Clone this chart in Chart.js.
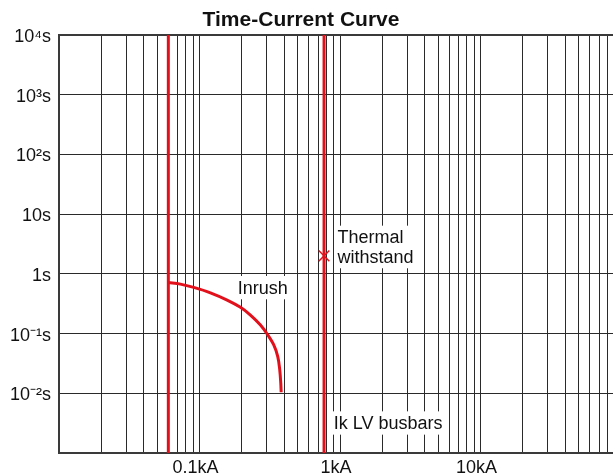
<!DOCTYPE html>
<html><head><meta charset="utf-8">
<script src="https://cdn.jsdelivr.net/npm/chart.js@4.4.1/dist/chart.umd.min.js"></script>
<style>
html,body{margin:0;padding:0;background:#fff;overflow:hidden;}
#wrap{width:613px;height:474px;overflow:hidden;position:relative;}
#c{position:absolute;left:0;top:0;width:630px;height:474px;}
</style></head><body>
<div id="wrap"><canvas id="c" width="630" height="474" style="width:630px;height:474px"></canvas></div>
<script>
// ---- axis ranges and ticks ----
const currentRangeKA = [0.01, 100];
const timeRangeS = [0.001, 10000];
const gridDecadesKA = [0.01, 0.1, 1, 10];
const gridMultipliers = [1, 2, 3, 4, 5, 6, 7, 8, 9];
const currentTickValuesKA = [0.1, 1, 10];
const currentTickLabels = ['0.1kA', '1kA', '10kA'];
const timeGridS = [0.001, 0.01, 0.1, 1, 10, 100, 1000, 10000];
const timeTickValuesS = [0.01, 0.1, 1, 10, 100, 1000, 10000];
const timeTickLabels = ['10⁻²s', '10⁻¹s', '1s', '10s', '10²s', '10³s', '10⁴s'];

// ---- series ----
const ratedCurrentKA = 0.06;
const busbarIkKA = 0.77;
const thermalWithstandKA = 0.77;
const thermalWithstandS = 2;
const inrushCurrentKA = [0.06, 0.0731, 0.0909, 0.1196, 0.1573, 0.1956, 0.2304, 0.2716, 0.303, 0.3377, 0.3606, 0.3725, 0.3788, 0.3813];
const inrushTimeS     = [0.718, 0.673, 0.593, 0.482, 0.364, 0.275, 0.204, 0.139, 0.0984, 0.0645, 0.0411, 0.0247, 0.0148, 0.0104];

// ---- annotation texts ----
const noteTexts = [['Inrush'], ['Thermal', 'withstand'], ['Ik LV busbars']];
const notePlacement = [{x: 0.187, y: 0.588}, {x: 0.96, y: 2.82}, {x: 0.903, y: 0.00318}];

const RED = '#e2101b';
const FONT = '"Liberation Sans", Arial, Helvetica, sans-serif';

const gridCurrentKA = [];
gridDecadesKA.forEach(d => gridMultipliers.forEach(m => gridCurrentKA.push(+(d * m).toPrecision(6))));
gridCurrentKA.push(currentRangeKA[1]);

function labelFor(values, labels, v) {
  const i = values.findIndex(t => Math.abs(Math.log10(t) - Math.log10(v)) < 1e-6);
  return i >= 0 ? labels[i] : '';
}

const overlay = {
  id: 'overlay',
  beforeDatasetsDraw(chart) {
    const {ctx, chartArea: a, scales: {x, y}} = chart;
    ctx.save();
    ctx.strokeStyle = '#3a3a3a';
    ctx.lineWidth = 2;
    ctx.strokeRect(a.left, a.top, a.right - a.left + 4, a.bottom - a.top);
    ctx.font = '18px ' + FONT;
    ctx.textBaseline = 'middle';
    ctx.textAlign = 'left';
    const lh = 19.3;
    noteTexts.forEach((lines, k) => {
      const p = notePlacement[k];
      const px = x.getPixelForValue(p.x), py = y.getPixelForValue(p.y);
      const w = Math.max(...lines.map(t => ctx.measureText(t).width));
      const h = lines.length * lh;
      ctx.fillStyle = '#fff';
      ctx.fillRect(px - 3, py - h / 2 - 2, w + 5, h + 4);
      ctx.fillStyle = '#111';
      lines.forEach((t, i) => ctx.fillText(t, px, py - h / 2 + lh * (i + 0.5) + 1));
    });
    ctx.restore();
  },
  afterDraw(chart) {
    const ctx = chart.ctx;
    ctx.save();
    ctx.font = 'bold 21px ' + FONT;
    ctx.fillStyle = '#111';
    ctx.textAlign = 'center';
    ctx.textBaseline = 'alphabetic';
    ctx.fillText('Time-Current Curve', 301, 26);
    ctx.restore();
  }
};

new Chart(document.getElementById('c'), {
  type: 'line',
  data: {
    datasets: [
      {
        label: 'Rated current',
        data: [{x: ratedCurrentKA, y: timeRangeS[0]}, {x: ratedCurrentKA, y: timeRangeS[1]}],
        borderColor: RED, borderWidth: 3, pointRadius: 0, tension: 0
      },
      {
        label: 'Ik LV busbars',
        data: [{x: busbarIkKA, y: timeRangeS[0]}, {x: busbarIkKA, y: timeRangeS[1]}],
        borderColor: RED, borderWidth: 3, pointRadius: 0, tension: 0
      },
      {
        label: 'Inrush',
        data: inrushCurrentKA.map((v, i) => ({x: v, y: inrushTimeS[i]})),
        borderColor: RED, borderWidth: 3, pointRadius: 0, tension: 0.35,
        borderCapStyle: 'butt'
      },
      {
        label: 'Thermal withstand',
        data: [{x: thermalWithstandKA, y: thermalWithstandS}],
        showLine: false, borderColor: RED, backgroundColor: RED,
        pointStyle: 'crossRot', pointRadius: 7.5, pointBorderWidth: 1.5, pointBorderColor: RED
      }
    ]
  },
  options: {
    responsive: false,
    animation: false,
    devicePixelRatio: 1,
    layout: {padding: {top: 35, left: 0, right: 0, bottom: 0}},
    plugins: {legend: {display: false}, title: {display: false}, tooltip: {enabled: false}},
    scales: {
      x: {
        type: 'logarithmic',
        min: currentRangeKA[0], max: currentRangeKA[1],
        afterBuildTicks: s => { s.ticks = gridCurrentKA.map(v => ({value: v})); },
        afterFit: s => { s.height = 21; },
        grid: {color: '#2a2a2a', lineWidth: 1, drawTicks: false},
        border: {display: false},
        ticks: {
          autoSkip: false, maxRotation: 0, minRotation: 0, padding: 4, labelOffset: -4,
          color: '#111', font: {family: FONT, size: 18},
          callback: v => labelFor(currentTickValuesKA, currentTickLabels, v)
        }
      },
      y: {
        type: 'logarithmic',
        min: timeRangeS[0], max: timeRangeS[1],
        afterBuildTicks: s => { s.ticks = timeGridS.map(v => ({value: v})); },
        afterFit: s => { s.width = 59; },
        grid: {color: '#2a2a2a', lineWidth: 1, drawTicks: false},
        border: {display: false},
        ticks: {
          autoSkip: false, padding: 8, labelOffset: 2,
          color: '#111', font: {family: FONT, size: 18},
          callback: v => labelFor(timeTickValuesS, timeTickLabels, v)
        }
      }
    }
  },
  plugins: [overlay]
});
</script>
</body></html>
